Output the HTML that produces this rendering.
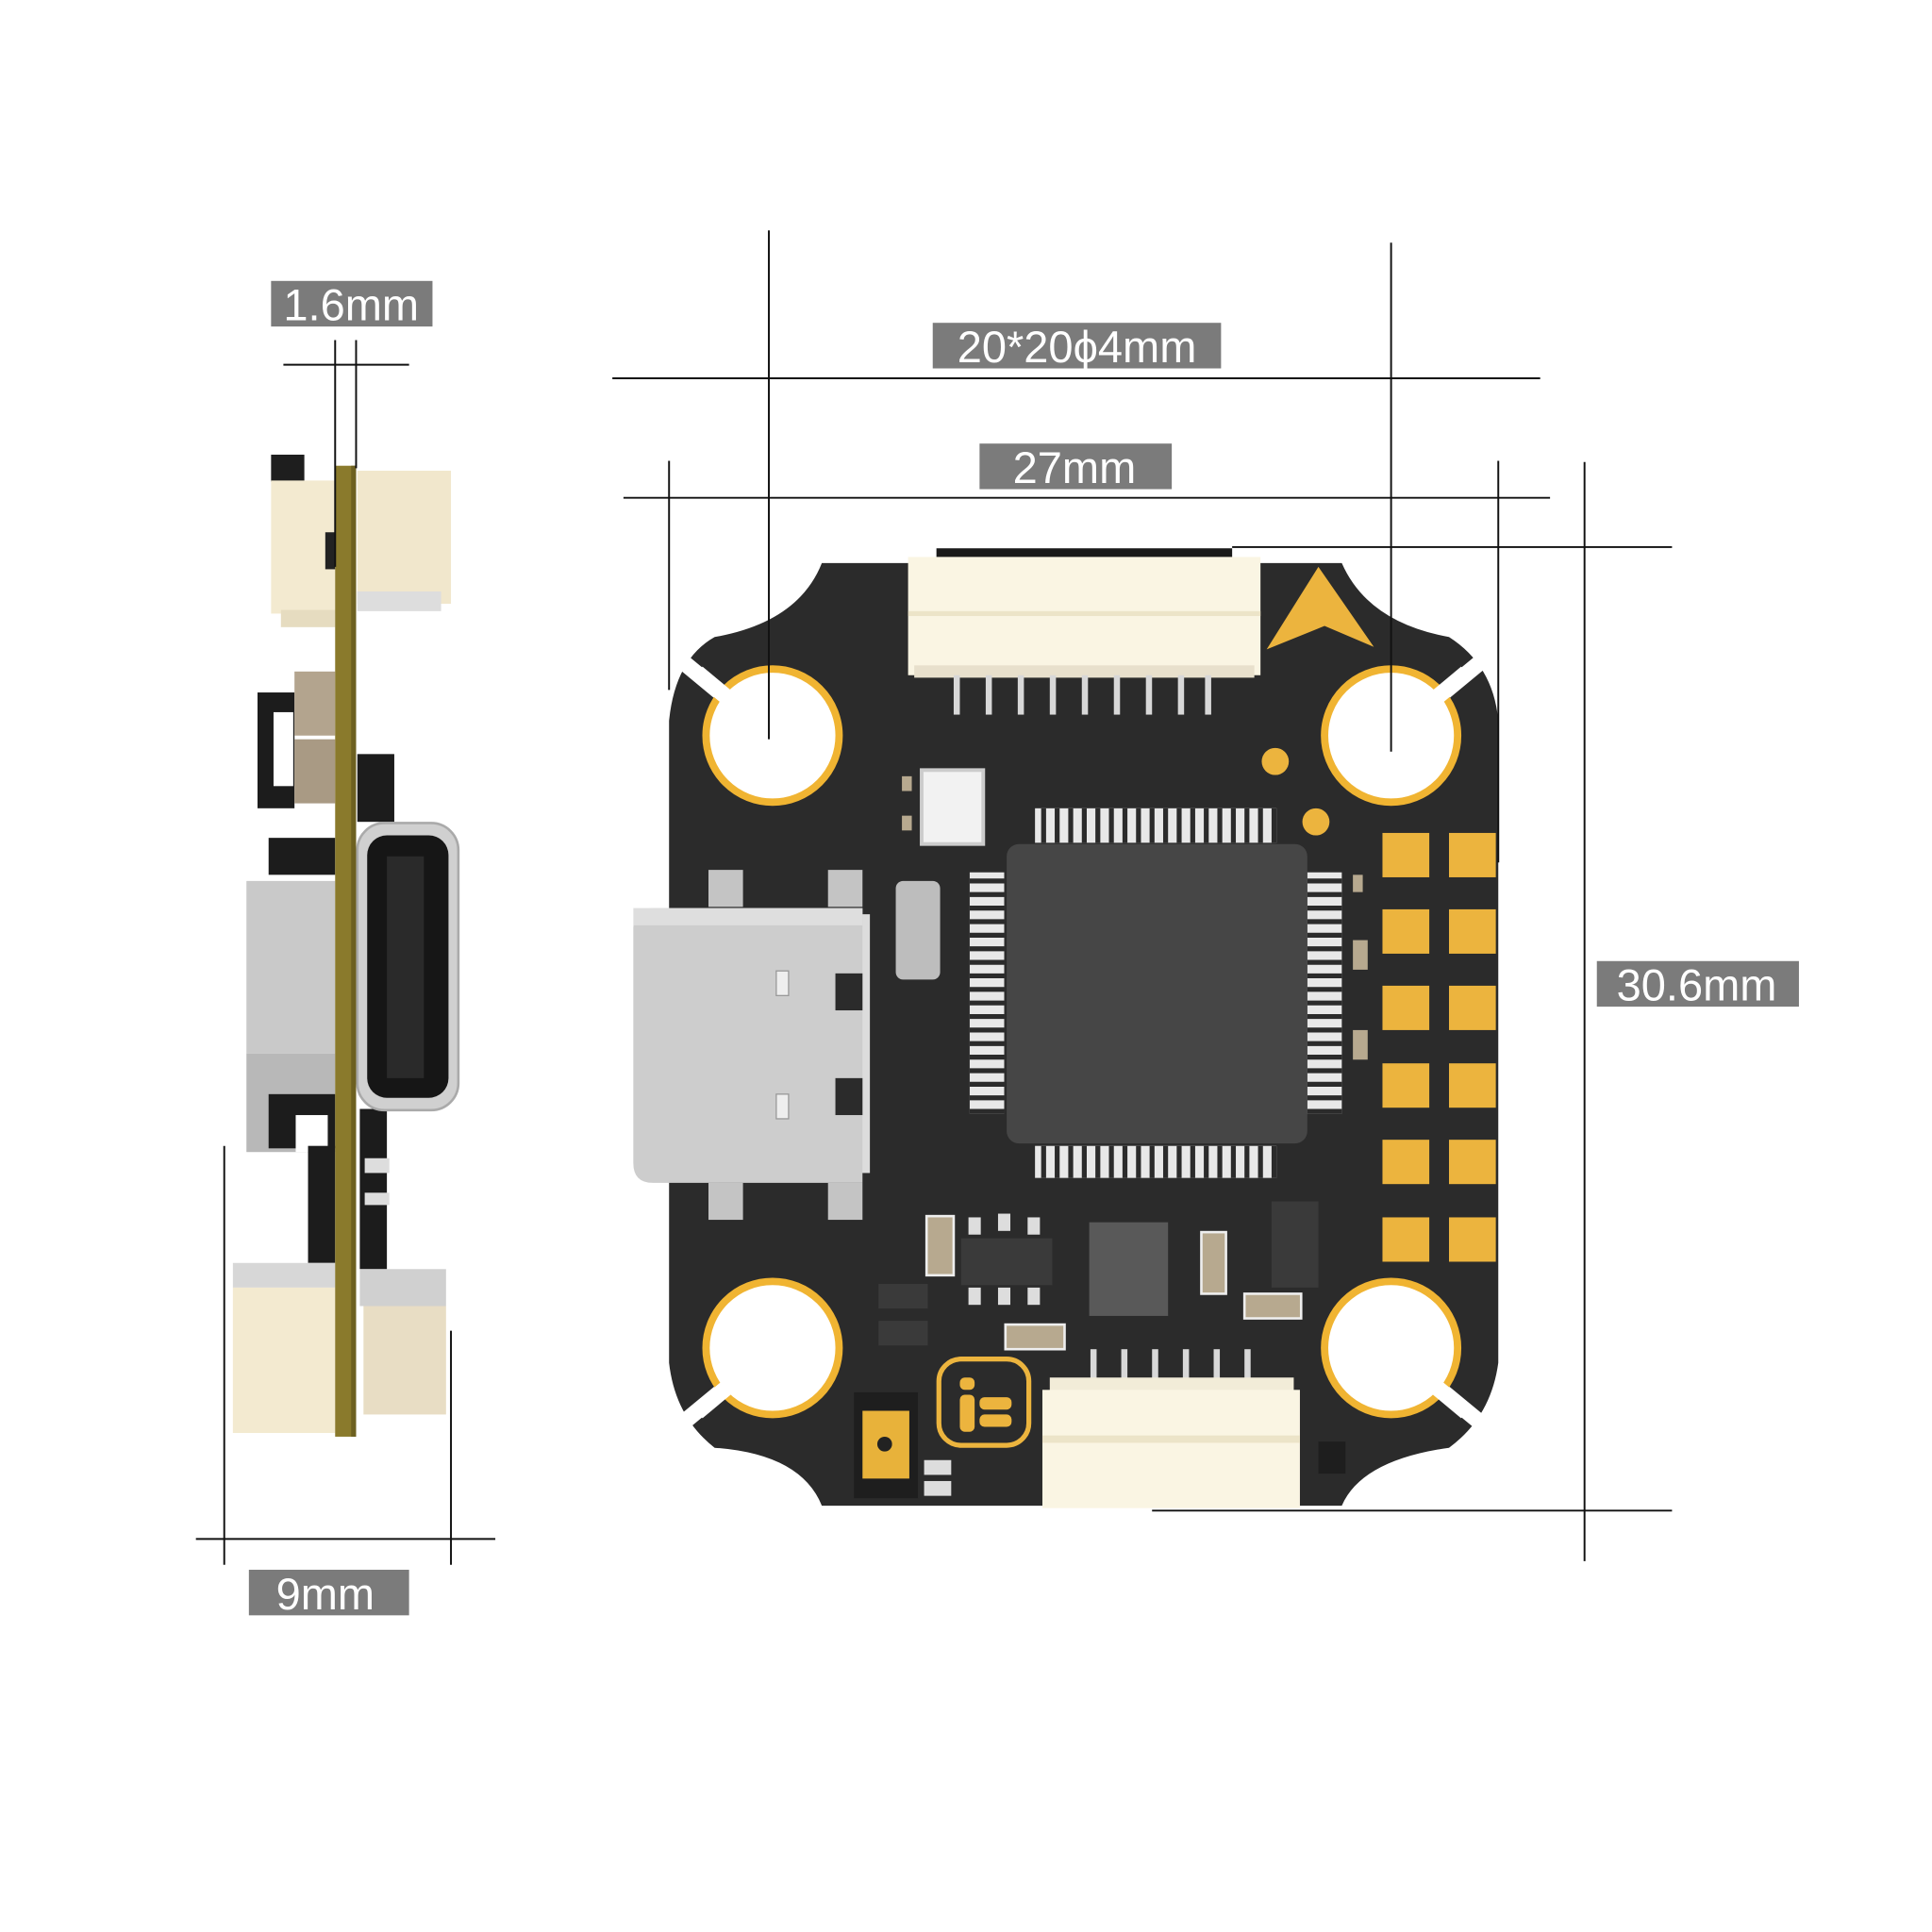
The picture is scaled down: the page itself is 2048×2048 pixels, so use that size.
<!DOCTYPE html>
<html><head><meta charset="utf-8"><style>
html,body{margin:0;padding:0;background:#fff;}
svg{display:block;}
text{font-family:"Liberation Sans",sans-serif;fill:#fff;}
</style></head><body>
<svg width="2048" height="2048" viewBox="0 0 1568 1568" xmlns="http://www.w3.org/2000/svg">
<rect width="1568" height="1568" fill="#fff"/>

<!-- ===== Side view ===== -->
<g>
 <rect x="220" y="369" width="27" height="22" fill="#1e1e1e"/>
 <rect x="220" y="390" width="52" height="108" fill="#f3ead0"/>
 <rect x="228" y="495" width="44" height="14" fill="#e6dcc0"/>
 <rect x="264" y="432" width="8" height="30" fill="#222"/>
 <rect x="290" y="382" width="76" height="108" fill="#f1e7cc"/>
 <rect x="290" y="480" width="68" height="16" fill="#ddd"/>
 <rect x="209" y="562" width="30" height="94" fill="#1c1c1c"/>
 <rect x="222" y="578" width="16" height="60" fill="#fff"/>
 <rect x="239" y="545" width="33" height="52" fill="#b3a48e"/>
 <rect x="239" y="600" width="33" height="52" fill="#a99a84"/>
 <rect x="218" y="680" width="54" height="30" fill="#1c1c1c"/>
 <rect x="290" y="612" width="30" height="55" fill="#1c1c1c"/>
 <rect x="200" y="715" width="72" height="140" fill="#c9c9c9"/>
 <rect x="200" y="855" width="72" height="80" fill="#b8b8b8"/>
 <rect x="218" y="888" width="54" height="44" fill="#1c1c1c"/>
 <rect x="240" y="905" width="26" height="30" fill="#fff"/>
 <rect x="250" y="930" width="22" height="95" fill="#1c1c1c"/>
 <rect x="292" y="900" width="22" height="130" fill="#1c1c1c"/>
 <rect x="296" y="940" width="20" height="12" fill="#ddd"/>
 <rect x="296" y="968" width="20" height="10" fill="#ddd"/>
 <rect x="189" y="1025" width="83" height="20" fill="#d7d7d7"/>
 <rect x="189" y="1045" width="83" height="118" fill="#f3ead0"/>
 <rect x="292" y="1030" width="70" height="30" fill="#d0d0d0"/>
 <rect x="295" y="1060" width="67" height="88" fill="#e8ddc4"/>
 <!-- USB opening -->
 <rect x="290" y="668" width="82" height="233" rx="22" fill="#d0d0d0" stroke="#aaa" stroke-width="2"/>
 <rect x="298" y="678" width="66" height="213" rx="16" fill="#161616"/>
 <rect x="314" y="695" width="30" height="180" fill="#2a2a2a"/>
 <!-- PCB edge -->
 <rect x="272" y="378" width="17" height="788" fill="#8a7a2c"/>
 <rect x="285" y="378" width="4" height="788" fill="#6d6020"/>
</g>

<!-- side dimension lines -->
<g stroke="#111" stroke-width="1.5">
 <line x1="230" y1="296" x2="332" y2="296"/>
 <line x1="272" y1="276" x2="272" y2="460"/>
 <line x1="289" y1="276" x2="289" y2="380"/>
 <line x1="159" y1="1249" x2="402" y2="1249"/>
 <line x1="182" y1="930" x2="182" y2="1270"/>
 <line x1="366" y1="1080" x2="366" y2="1270"/>
</g>
<rect x="220" y="228" width="131" height="37" fill="#7b7b7b"/>
<text x="285" y="260" font-size="36" text-anchor="middle">1.6mm</text>
<rect x="202" y="1274" width="130" height="37" fill="#7b7b7b"/>
<text x="264" y="1306" font-size="36" text-anchor="middle">9mm</text>

<!-- ===== Board ===== -->
<path d="M667 457 L1089 457 Q1110 505 1176 517 Q1212 540 1216 585 L1216 1106 Q1210 1150 1176 1175 Q1105 1185 1089 1222 L667 1222 Q650 1180 580 1175 Q548 1150 543 1106 L543 585 Q548 535 580 517 Q648 505 667 457 Z" fill="#2b2b2b"/>
<!-- corner white gaps -->
<g stroke="#fff" stroke-width="13">
 <line x1="548" y1="532" x2="600" y2="575"/>
 <line x1="1208" y1="532" x2="1156" y2="575"/>
 <line x1="548" y1="1160" x2="600" y2="1117"/>
 <line x1="1208" y1="1160" x2="1156" y2="1117"/>
</g>
<!-- holes -->
<g fill="#fff" stroke="#f0b432" stroke-width="6">
 <circle cx="627" cy="597" r="54"/>
 <circle cx="1129" cy="597" r="54"/>
 <circle cx="627" cy="1094" r="54"/>
 <circle cx="1129" cy="1094" r="54"/>
</g>
<g stroke="#fff" stroke-width="13">
 <line x1="566" y1="546" x2="590" y2="566"/>
 <line x1="1190" y1="546" x2="1166" y2="566"/>
 <line x1="566" y1="1146" x2="590" y2="1126"/>
 <line x1="1190" y1="1146" x2="1166" y2="1126"/>
</g>

<!-- top connector -->
<rect x="760" y="445" width="240" height="10" fill="#1a1a1a"/>
<rect x="737" y="452" width="286" height="96" fill="#faf5e3"/>
<rect x="737" y="496" width="286" height="4" fill="#ece4c8"/>
<rect x="742" y="540" width="276" height="10" fill="#e8e0cc"/>
<g fill="#d8d8d8">
 <rect x="774" y="548" width="5" height="32"/><rect x="800" y="548" width="5" height="32"/><rect x="826" y="548" width="5" height="32"/><rect x="852" y="548" width="5" height="32"/><rect x="878" y="548" width="5" height="32"/><rect x="904" y="548" width="5" height="32"/><rect x="930" y="548" width="5" height="32"/><rect x="956" y="548" width="5" height="32"/><rect x="978" y="548" width="5" height="32"/>
</g>
<!-- arrow -->
<path d="M1070 460 L1115 525 L1075 508 L1028 527 Z" fill="#ecb43e"/>
<circle cx="1035" cy="618" r="11" fill="#ecb43e"/>
<circle cx="1068" cy="667" r="11" fill="#ecb43e"/>

<!-- gyro -->
<rect x="748" y="625" width="50" height="60" fill="#f2f2f2" stroke="#ccc" stroke-width="3"/>
<rect x="732" y="630" width="8" height="12" fill="#b7a98f"/>
<rect x="732" y="662" width="8" height="12" fill="#b7a98f"/>
<!-- crystal -->
<rect x="727" y="715" width="36" height="80" rx="6" fill="#bdbdbd"/>

<!-- MCU pins -->
<g fill="#e8e8e8">
 <rect x="840" y="656" width="196" height="28"/>
 <rect x="840" y="930" width="196" height="26"/>
 <rect x="787" y="708" width="28" height="196"/>
 <rect x="1061" y="708" width="28" height="196"/>
</g>
<g stroke="#2b2b2b" stroke-width="4">
 <path d="M847 656v28M858 656v28M869 656v28M880 656v28M891 656v28M902 656v28M913 656v28M924 656v28M935 656v28M946 656v28M957 656v28M968 656v28M979 656v28M990 656v28M1001 656v28M1012 656v28M1023 656v28M1034 656v28"/>
 <path d="M847 930v26M858 930v26M869 930v26M880 930v26M891 930v26M902 930v26M913 930v26M924 930v26M935 930v26M946 930v26M957 930v26M968 930v26M979 930v26M990 930v26M1001 930v26M1012 930v26M1023 930v26M1034 930v26"/>
 <path d="M787 715h28M787 726h28M787 737h28M787 748h28M787 759h28M787 770h28M787 781h28M787 792h28M787 803h28M787 814h28M787 825h28M787 836h28M787 847h28M787 858h28M787 869h28M787 880h28M787 891h28M787 902h28"/>
 <path d="M1061 715h28M1061 726h28M1061 737h28M1061 748h28M1061 759h28M1061 770h28M1061 781h28M1061 792h28M1061 803h28M1061 814h28M1061 825h28M1061 836h28M1061 847h28M1061 858h28M1061 869h28M1061 880h28M1061 891h28M1061 902h28"/>
</g>
<rect x="817" y="685" width="244" height="243" rx="10" fill="#464646"/>

<!-- pads -->
<g fill="#ecb43e">
 <rect x="1122" y="676" width="38" height="36"/><rect x="1176" y="676" width="38" height="36"/>
 <rect x="1122" y="738" width="38" height="36"/><rect x="1176" y="738" width="38" height="36"/>
 <rect x="1122" y="800" width="38" height="36"/><rect x="1176" y="800" width="38" height="36"/>
 <rect x="1122" y="863" width="38" height="36"/><rect x="1176" y="863" width="38" height="36"/>
 <rect x="1122" y="925" width="38" height="36"/><rect x="1176" y="925" width="38" height="36"/>
 <rect x="1122" y="988" width="38" height="36"/><rect x="1176" y="988" width="38" height="36"/>
</g>
<g fill="#b7a98f">
 <rect x="1098" y="763" width="12" height="24"/><rect x="1098" y="836" width="12" height="24"/>
 <rect x="1098" y="710" width="8" height="14"/>
</g>

<!-- USB-C -->
<g fill="#c4c4c4">
 <rect x="575" y="706" width="28" height="30"/><rect x="672" y="706" width="28" height="30"/>
 <rect x="575" y="960" width="28" height="30"/><rect x="672" y="960" width="28" height="30"/>
</g>
<rect x="680" y="742" width="26" height="210" fill="#dcdcdc"/>
<path d="M530 737 L700 737 L700 960 L530 960 Q514 960 514 944 L514 753 Q514 737 530 737 Z" fill="#cdcdcd"/>
<rect x="514" y="737" width="186" height="14" fill="#dedede"/>
<rect x="630" y="788" width="10" height="20" fill="#eee" stroke="#999"/>
<rect x="630" y="888" width="10" height="20" fill="#eee" stroke="#999"/>
<rect x="678" y="790" width="22" height="30" fill="#2b2b2b"/>
<rect x="678" y="875" width="22" height="30" fill="#2b2b2b"/>

<!-- lower components -->
<rect x="752" y="987" width="22" height="48" fill="#b7a98f" stroke="#eee" stroke-width="2"/>
<rect x="780" y="1005" width="74" height="38" fill="#3a3a3a"/>
<g fill="#ddd"><rect x="786" y="988" width="10" height="14"/><rect x="810" y="985" width="10" height="14"/><rect x="834" y="988" width="10" height="14"/>
<rect x="786" y="1045" width="10" height="14"/><rect x="810" y="1045" width="10" height="14"/><rect x="834" y="1045" width="10" height="14"/></g>
<rect x="884" y="992" width="64" height="76" fill="#595959"/>
<rect x="975" y="1000" width="20" height="50" fill="#b7a98f" stroke="#eee" stroke-width="2"/>
<rect x="1032" y="975" width="38" height="70" fill="#3a3a3a"/>
<rect x="1010" y="1050" width="46" height="20" fill="#b7a98f" stroke="#eee" stroke-width="2"/>
<rect x="816" y="1075" width="48" height="20" fill="#b7a98f" stroke="#eee" stroke-width="2"/>
<rect x="713" y="1042" width="40" height="20" fill="#3a3a3a"/>
<rect x="713" y="1072" width="40" height="20" fill="#3a3a3a"/>

<!-- logo -->
<rect x="762" y="1103" width="73" height="70" rx="18" fill="none" stroke="#ecb43e" stroke-width="4"/>
<rect x="779" y="1118" width="12" height="10" rx="4" fill="#ecb43e"/>
<rect x="779" y="1132" width="12" height="30" rx="4" fill="#ecb43e"/>
<rect x="795" y="1134" width="26" height="10" rx="4" fill="#ecb43e"/>
<rect x="795" y="1148" width="26" height="10" rx="4" fill="#ecb43e"/>
<!-- button -->
<rect x="693" y="1130" width="52" height="86" fill="#1e1e1e"/>
<rect x="700" y="1145" width="38" height="55" fill="#e8b23a"/>
<circle cx="718" cy="1172" r="6" fill="#222"/>
<g fill="#ddd"><rect x="750" y="1185" width="22" height="12"/><rect x="750" y="1202" width="22" height="12"/></g>

<!-- bottom connector -->
<g fill="#d8d8d8">
 <rect x="885" y="1095" width="5" height="40"/><rect x="910" y="1095" width="5" height="40"/><rect x="935" y="1095" width="5" height="40"/><rect x="960" y="1095" width="5" height="40"/><rect x="985" y="1095" width="5" height="40"/><rect x="1010" y="1095" width="5" height="40"/>
</g>
<rect x="852" y="1118" width="198" height="20" fill="#f2ecd8"/>
<rect x="846" y="1128" width="209" height="96" fill="#faf5e3"/>
<rect x="846" y="1165" width="209" height="6" fill="#ece4c8"/>
<rect x="1070" y="1170" width="22" height="26" fill="#1e1e1e"/>

<!-- main dimension lines -->
<g stroke="#111" stroke-width="1.5">
 <line x1="497" y1="307" x2="1250" y2="307"/>
 <line x1="624" y1="187" x2="624" y2="600"/>
 <line x1="1129" y1="197" x2="1129" y2="610"/>
 <line x1="506" y1="404" x2="1258" y2="404"/>
 <line x1="543" y1="374" x2="543" y2="560"/>
 <line x1="1216" y1="374" x2="1216" y2="700"/>
 <line x1="1286" y1="375" x2="1286" y2="1267"/>
 <line x1="1000" y1="444" x2="1357" y2="444"/>
 <line x1="935" y1="1226" x2="1357" y2="1226"/>
</g>
<rect x="757" y="262" width="234" height="37" fill="#7b7b7b"/>
<text x="874" y="294" font-size="36" text-anchor="middle">20*20ϕ4mm</text>
<rect x="795" y="360" width="156" height="37" fill="#7b7b7b"/>
<text x="872" y="392" font-size="36" text-anchor="middle">27mm</text>
<rect x="1296" y="780" width="164" height="37" fill="#7b7b7b"/>
<text x="1377" y="812" font-size="36" text-anchor="middle">30.6mm</text>
</svg>
</body></html>
